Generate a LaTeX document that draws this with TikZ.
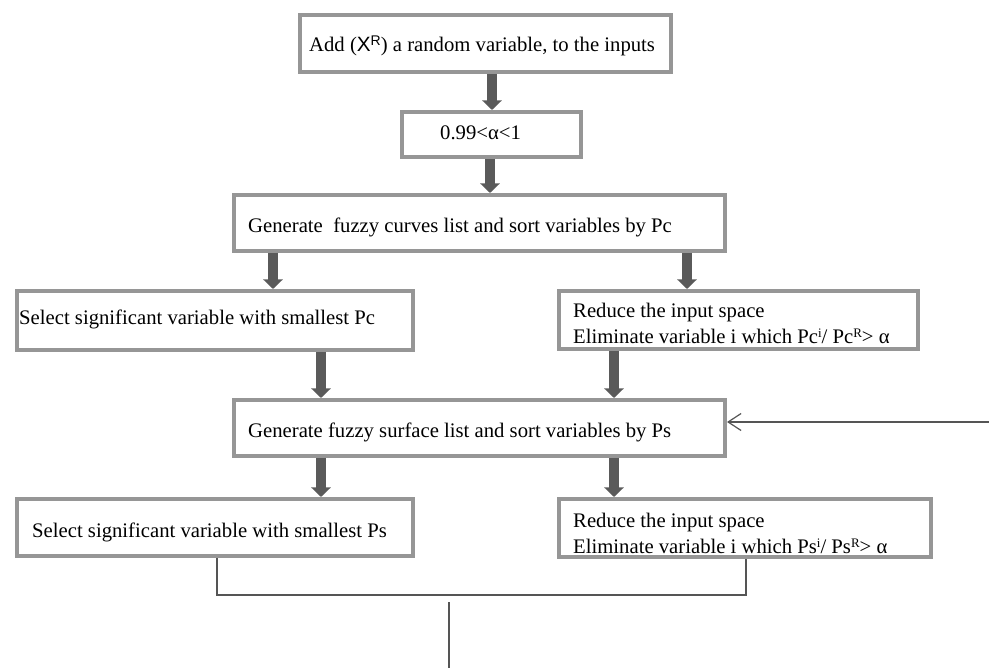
\documentclass[tikz,border=0pt]{standalone}
\usepackage{fontspec}
\setmainfont{Liberation Serif}
\newfontfamily\sansf{Liberation Sans}
\usetikzlibrary{arrows.meta}
\definecolor{boxgray}{HTML}{969696}
\definecolor{arrgray}{HTML}{5A5A5A}
\definecolor{linegray}{HTML}{555555}
\begin{document}
\begin{tikzpicture}[x=1pt,y=-1pt,
  box/.style={draw=boxgray, line width=3.8pt, fill=white, rectangle, inner sep=0pt},
  txt/.style={inner sep=0pt, font=\fontsize{20.7}{25.5}\selectfont, text=black},
  bigarrow/.style={draw=arrgray, line width=9.5pt, -{Triangle[length=9.5pt,width=19pt]}},
  thinline/.style={draw=linegray, line width=1.2pt},
  fbarrow/.style={draw=linegray, line width=1.2pt, -{Straight Barb[length=13pt,width=17pt,line width=1.2pt]}}]
\useasboundingbox (0,0) rectangle (989,668);
% boxes (outer edges measured, node size = outer - line width)
\node[box, minimum width=371.2pt, minimum height=57.2pt] (b1) at (485.5,43.5) {};
\node[box, minimum width=179.2pt, minimum height=45.2pt] (b2) at (491.5,134.5) {};
\node[box, minimum width=491.2pt, minimum height=56.2pt] (b3) at (479.5,223) {};
\node[box, minimum width=396.2pt, minimum height=59.2pt] (b4) at (215,320.5) {};
\node[box, minimum width=359.2pt, minimum height=58.2pt] (b6) at (738.5,320) {};
\node[box, minimum width=491.2pt, minimum height=56.2pt] (b5) at (479.5,428) {};
\node[box, minimum width=396.2pt, minimum height=57.2pt] (b7) at (215,527.5) {};
\node[box, minimum width=372.2pt, minimum height=58.2pt] (b8) at (745,528) {};
% texts
\node[txt, anchor=base west] (t1) at (309,52) {Add ({\sansf X\raisebox{0.6ex}{\fontsize{14}{14}\selectfont R}}) a random variable, to the inputs};
\node[txt, anchor=base west] (t2) at (440,140) {0.99<α<1};
\node[txt, anchor=base west] (t3) at (248,233) {Generate\ \ fuzzy curves list and sort variables by Pc};
\node[txt, anchor=base west] (t4) at (19,325) {Select significant variable with smallest Pc};
\node[txt, anchor=north west, align=left] (t6) at (573,303) {Reduce the input space\\Eliminate variable i which Pc\raisebox{0.6ex}{\fontsize{13}{13}\selectfont i}/ Pc\raisebox{0.6ex}{\fontsize{13}{13}\selectfont R}> α};
\node[txt, anchor=base west] (t5) at (248,438) {Generate fuzzy surface list and sort variables by Ps};
\node[txt, anchor=base west] (t7) at (32,537) {Select significant variable with smallest Ps};
\node[txt, anchor=north west, align=left] (t8) at (573,513) {Reduce the input space\\Eliminate variable i which Ps\raisebox{0.6ex}{\fontsize{13}{13}\selectfont i}/ Ps\raisebox{0.6ex}{\fontsize{13}{13}\selectfont R}> α};
% arrow x positions
\coordinate (xa1) at (492,0);
\coordinate (xa2) at (490,0);
\coordinate (xa3) at (273,0);
\coordinate (xa4) at (687,0);
\coordinate (xa5) at (321,0);
\coordinate (xa6) at (614,0);
\coordinate (xa7) at (321,0);
\coordinate (xa8) at (614,0);
\draw[bigarrow] (b1.south -| xa1) -- (b2.north -| xa1);
\draw[bigarrow] (b2.south -| xa2) -- (b3.north -| xa2);
\draw[bigarrow] (b3.south -| xa3) -- (b4.north -| xa3);
\draw[bigarrow] (b3.south -| xa4) -- (b6.north -| xa4);
\draw[bigarrow] (b4.south -| xa5) -- (b5.north -| xa5);
\draw[bigarrow] (b6.south -| xa6) -- (b5.north -| xa6);
\draw[bigarrow] (b5.south -| xa7) -- (b7.north -| xa7);
\draw[bigarrow] (b5.south -| xa8) -- (b8.north -| xa8);
% merge lines
\coordinate (j1) at (217,595);
\coordinate (j2) at (746,595);
\draw[thinline] (b7.south -| j1) -- (j1) -- (j2) -- (b8.south -| j2);
\coordinate (v1) at (449,602);
\coordinate (v2) at (449,668);
\draw[thinline] (v1) -- (v2);
% feedback arrow
\coordinate (fb) at (989,422);
\draw[fbarrow] (fb) -- (b5.east |- fb);
\end{tikzpicture}
\end{document}
